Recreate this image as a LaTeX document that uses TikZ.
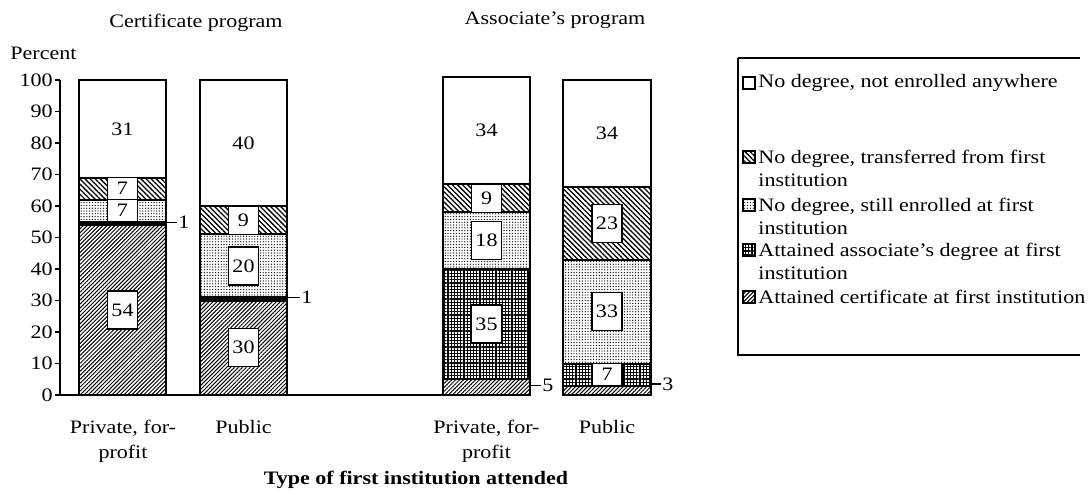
\documentclass[tikz,border=0pt]{standalone}
\usepackage{fontspec}
\setmainfont[FakeStretch=1.16]{Liberation Serif}
\usetikzlibrary{patterns.meta}

\begin{document}
\begin{tikzpicture}[
    x = 0.5pt, y = 1.575pt,
    font = \fontsize{9.5}{11.5}\selectfont,
    %
    seg/.style = {draw, line width = 1pt},
    bar/.style = {draw, line width = 1.3pt},
    certseg/.style = {pattern = {Lines[angle = 45, distance = 1.4pt, line width = 0.5pt]}},
    assocseg/.style = {pattern = {Hatch[angle = 0, distance = 1.6pt, line width = 0.6pt]}},
    enrolseg/.style = {pattern = {Dots[distance = 1.4pt, radius = 0.33pt]}},
    transseg/.style = {pattern = {Lines[angle = -45, distance = 1.8pt, line width = 0.65pt]}},
    noneseg/.style = {fill = white},
    %
    val/.style = {draw, fill = white, line width = 0.7pt, inner sep = 0.5pt,
      minimum width = 15pt, minimum height = 19pt},
    valfit/.style = {val, minimum height = {#1*1.575pt}},
    small/.style = {anchor = west, inner sep = 0.5pt},
    xlab/.style = {anchor = north, inner sep = 0pt, align = center,
      font = \fontsize{9.5}{12.5}\selectfont},
    legkey/.style = {draw, line width = 0.8pt, minimum size = 6pt, inner sep = 0pt},
    legtext/.style = {anchor = west, inner sep = 0pt, align = left},
    ]

    \useasboundingbox (0, -30.48) rectangle (1090, 125.4);

    % axis
    \draw [line width = 0.6pt] (60, 0) -- (60, 100);
    \draw [line width = 0.6pt] (55, 0) -- (443, 0);
    \foreach \v in {0, 10, ..., 100} {
      \draw [line width = 0.6pt] (55, \v) -- (60, \v);
      \node at (53, \v) [anchor = east, inner sep = 0pt, name = tick\v] {\v};
    }
    \node at (10, 108.6) [anchor = west, inner sep = 0pt, name = percent] {Percent};

    \node at (196, 118.1) [name = cert_title] {Certificate program};
    \node at (555, 119) [name = assoc_title] {Associate's program};

    % certificate, private for-profit
    \foreach \lo/\hi/\kind in {0/54/certseg, 54/55/assocseg, 55/62/enrolseg,
      62/69/transseg, 69/100/noneseg}
      \draw [seg, \kind] (79, \lo) rectangle (166, \hi);
    \draw [line width = 1.5pt] (79, 54.5) -- (166, 54.5);
    \draw [bar] (79, 0) rectangle (166, 100);

    \node at (122.5, 27) [val, name = cp_54] {54};
    \node at (122.5, 58.5) [valfit = 7, name = cp_7e] {7};
    \node at (122.5, 65.5) [valfit = 7, name = cp_7t] {7};
    \node at (122.5, 84.5) [name = cp_31] {31};
    \coordinate (cp_1e) at (166, 54.8);
    \node at (177, 54.8) [small, name = cp_1] {1};
    \draw [line width = 0.6pt] (cp_1e) -- (cp_1.west);

    % certificate, public
    \foreach \lo/\hi/\kind in {0/30/certseg, 30/31/assocseg, 31/51/enrolseg,
      51/60/transseg, 60/100/noneseg}
      \draw [seg, \kind] (200, \lo) rectangle (287, \hi);
    \draw [line width = 1.5pt] (200, 30.5) -- (287, 30.5);
    \draw [bar] (200, 0) rectangle (287, 100);

    \node at (243.5, 15) [val, name = cu_30] {30};
    \node at (243.5, 41) [val, name = cu_20] {20};
    \node at (243.5, 55.5) [valfit = 9, name = cu_9] {9};
    \node at (243.5, 80) [name = cu_40] {40};
    \coordinate (cu_1e) at (287, 31);
    \node at (300, 31) [small, name = cu_1] {1};
    \draw [line width = 0.6pt] (cu_1e) -- (cu_1.west);

    % associate, private for-profit
    \foreach \lo/\hi/\kind in {0/5/certseg, 5/40/assocseg, 40/58/enrolseg,
      58/67/transseg, 67/101/noneseg}
      \draw [seg, \kind] (443, \lo) rectangle (530, \hi);
    \draw [bar] (443, 0) rectangle (530, 101);

    \node at (486.5, 22.5) [val, name = ap_35] {35};
    \node at (486.5, 49) [val, name = ap_18] {18};
    \node at (486.5, 62.5) [valfit = 9, name = ap_9] {9};
    \node at (486.5, 84) [name = ap_34] {34};
    \coordinate (ap_5e) at (530, 3);
    \node at (541, 3) [small, name = ap_5] {5};
    \draw [line width = 0.6pt] (ap_5e) -- (ap_5.west);

    % associate, public
    \foreach \lo/\hi/\kind in {0/3/certseg, 3/10/assocseg, 10/43/enrolseg,
      43/66/transseg, 66/100/noneseg}
      \draw [seg, \kind] (563, \lo) rectangle (651, \hi);
    \draw [bar] (563, 0) rectangle (651, 100);

    \node at (607, 6.5) [valfit = 7, name = au_7] {7};
    \node at (607, 26.5) [val, name = au_33] {33};
    \node at (607, 54.5) [val, name = au_23] {23};
    \node at (607, 83) [name = au_34] {34};
    \coordinate (au_3e) at (651, 3.5);
    \node at (661, 3.5) [small, name = au_3] {3};
    \draw [line width = 0.6pt] (au_3e) -- (au_3.west);

    % category labels
    \node at (123, -7.9) [xlab, name = xl_cp] {Private, for-\\profit};
    \node at (243.5, -7.9) [xlab, name = xl_cu] {Public};
    \node at (486.5, -7.9) [xlab, name = xl_ap] {Private, for-\\profit};
    \node at (607, -7.9) [xlab, name = xl_au] {Public};
    \node at (416, -27) [name = xtitle] {\bfseries Type of first institution attended};

    % legend (box runs off the right edge)
    \draw [line width = 0.6pt] (738, 107) -- (1080, 107);
    \draw [line width = 0.6pt] (738, 107) -- (738, 12.7) -- (1080, 12.7);

    \node at (749, 99) [legkey, noneseg, line width = 1pt, name = k_none] {};
    \node at (758, 99) [legtext, name = l_none] {No degree, not enrolled anywhere};

    \node at (749, 75.6) [legkey, transseg, name = k_trans] {};
    \node at (758, 71.95) [legtext, name = l_trans] {No degree, transferred from first\\institution};

    \node at (749, 60.3) [legkey, enrolseg, name = k_enrol] {};
    \node at (758, 56.65) [legtext, name = l_enrol] {No degree, still enrolled at first\\institution};

    \node at (749, 46) [legkey, assocseg, name = k_assoc] {};
    \node at (758, 42.35) [legtext, name = l_assoc] {Attained associate's degree at first\\institution};

    \node at (749, 31.1) [legkey, certseg, name = k_cert] {};
    \node at (758, 31.1) [legtext, name = l_cert] {Attained certificate at first institution};

  \end{tikzpicture}
\end{document}
